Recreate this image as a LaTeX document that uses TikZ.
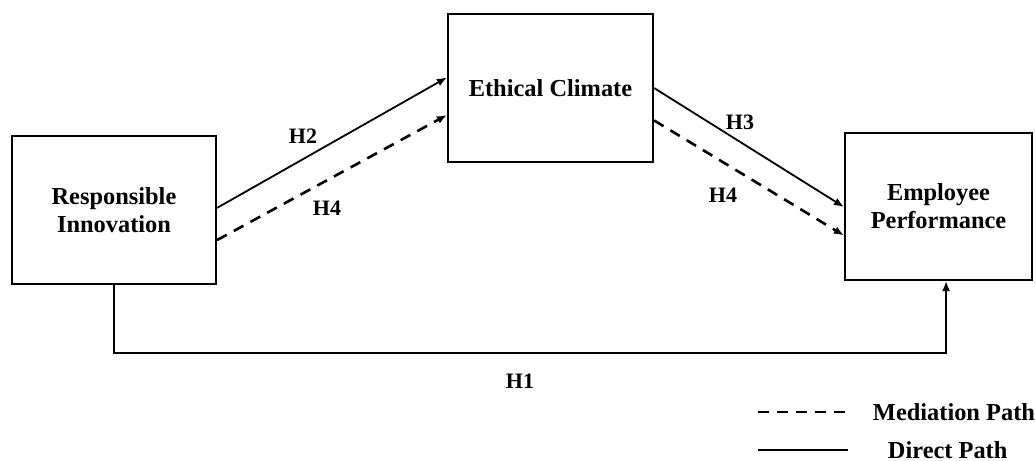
\documentclass[tikz,border=0pt]{standalone}
\usepackage{fontspec}
\setmainfont{Liberation Serif}
\usetikzlibrary{calc,positioning,arrows.meta}

\begin{document}
\begin{tikzpicture}[
        x=0.5pt,y=-0.5pt,
        BoxCfg/.style={
            draw,
            line width=1.1pt,
            align=center,
            inner sep=0pt,
            font=\fontsize{12.2}{14}\selectfont\bfseries
        },
        PathCfg/.style={line width=0.9pt,-{Latex[length=5pt,width=4pt]}},
        MedCfg/.style={PathCfg,line width=1.3pt,dash pattern=on 5.5pt off 4pt},
        LblCfg/.style={font=\fontsize{11}{13}\selectfont\bfseries},
        LegCfg/.style={font=\fontsize{12.2}{14}\selectfont\bfseries}
    ]
    \useasboundingbox (0,0) rectangle (1035,461);
    
    %constructs
    \node[BoxCfg,minimum width=102pt,minimum height=74pt] (RI) at (114,210) {Responsible\\Innovation};
    \node[BoxCfg,minimum width=102.5pt,minimum height=74pt] (EC) at (550.5,88) {Ethical Climate};
    \node[BoxCfg,minimum width=93.5pt,minimum height=73.5pt] (EP) at (938.5,206.5) {Employee\\Performance};
    
    %RI -> EC
    \draw[PathCfg] ($(RI.north east)!0.486!(RI.south east)$)--($(EC.north west)!0.43!(EC.south west)$);
    \draw[MedCfg] ($(RI.north east)!0.70!(RI.south east)$)--($(EC.north west)!0.68!(EC.south west)$);
    \node[LblCfg] (H2) at (303,136) {H2};
    \node[LblCfg] (H4a) at (327,208) {H4};
    
    %EC -> EP
    \draw[PathCfg] ($(EC.north east)!0.5!(EC.south east)$)--($(EP.north west)!0.503!(EP.south west)$);
    \draw[MedCfg] ($(EC.north east)!0.716!(EC.south east)$)--($(EP.north west)!0.694!(EP.south west)$);
    \node[LblCfg] (H3) at (740,122) {H3};
    \node[LblCfg] (H4b) at (723,195) {H4};
    
    %direct path
    \draw[PathCfg] (RI.south)--++(0,68)-|($(EP.south west)!0.54!(EP.south east)$);
    \node[LblCfg] (H1) at (520,381) {H1};
    
    %legend
    \coordinate (MedA) at (758,412);
    \coordinate (MedB) at (848,412);
    \coordinate (DirA) at (758,450);
    \coordinate (DirB) at (848,450);
    \draw[line width=1.3pt,dash pattern=on 5.5pt off 4pt] (MedA)--(MedB)node[right=8.5pt,LegCfg](MedTxt){Mediation Path};
    \draw[line width=1.3pt] (DirA)--(DirB)node[right=16pt,LegCfg](DirTxt){Direct Path};
    
\end{tikzpicture}
\end{document}
